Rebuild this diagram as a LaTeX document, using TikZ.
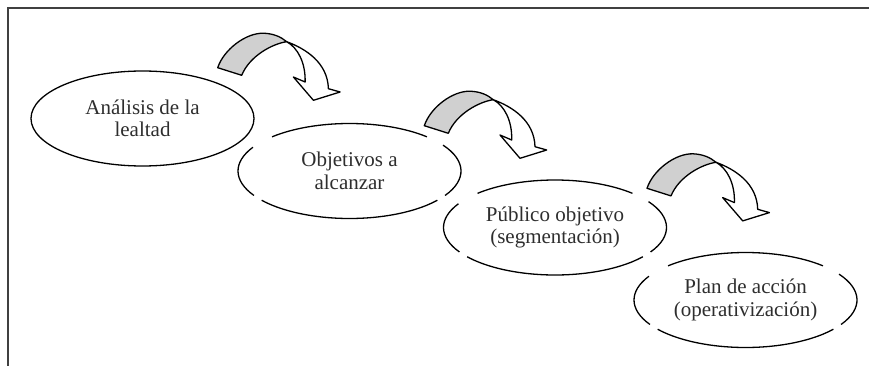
\documentclass[tikz,border=0pt]{standalone}
\usepackage{fontspec}
\setmainfont{Liberation Serif}
\usetikzlibrary{shapes.geometric}
\definecolor{bandgrey}{RGB}{208,208,208}
\newcommand\gapell[1]{%
  \foreach \a/\b in {226/314, 149/210, 38/142, -33/31}{%
    \draw[eline] (#1.center) ++(\a:111.5 and 47.5) arc[start angle=\a, end angle=\b, x radius=111.5, y radius=47.5];
  }}
\newcommand\curvarrow[1]{%
  \begin{scope}[shift={#1}]
    \draw[band, fill=bandgrey] (0,0) .. controls (6,-18) and (28,-35) .. (46,-34.5)
      .. controls (56,-34) and (63,-31) .. (69,-26)
      .. controls (55,-24) and (32,-12) .. (24,7.6) -- cycle;
    \draw[band, fill=white] (69,-26) .. controls (88,-19) and (110,-5) .. (110.7,21)
      -- (122.4,24.3) -- (95.7,32.6) -- (75.7,9.3) -- (87.4,14.3)
      .. controls (88,-5) and (80,-20) .. (69,-26) -- cycle;
  \end{scope}}
\begin{document}
\begin{tikzpicture}[x=1pt,y=-1pt,
  ell/.style={ellipse, minimum width=223pt, minimum height=95pt, inner sep=0pt,
    align=center, font=\fontsize{21}{22.5}\selectfont, text=black!82},
  eline/.style={line width=1.3pt, black},
  band/.style={line width=1.3pt, line join=round, black},
  frame/.style={line width=1.6pt, black!75}]
\useasboundingbox (0,0) rectangle (869,366);
\draw[frame] (869,8) -- (8,8) -- (8,366);

\node[ell, draw, line width=1.3pt] (e1) at (142.5,118.5) {Análisis de la\\lealtad};
\node[ell] (e2) at (349.5,171) {Objetivos a\\alcanzar};
\node[ell] (e3) at (555,227.5) {Público objetivo\\(segmentación)};
\node[ell] (e4) at (745.5,300) {Plan de acción\\(operativización)};
\gapell{e2}
\gapell{e3}
\gapell{e4}

\curvarrow{(217.7,67.7)}
\curvarrow{(424.3,125.7)}
\curvarrow{(647,188.3)}
\end{tikzpicture}
\end{document}
